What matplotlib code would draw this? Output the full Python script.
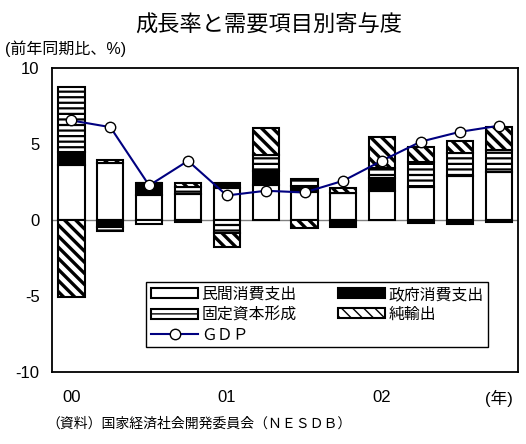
import matplotlib
matplotlib.use("Agg")
import matplotlib.pyplot as plt
import numpy as np

# quarterly contributions, 2000Q1 - 2002Q4 (percentage points)
quarters = ["00Q1", "00Q2", "00Q3", "00Q4", "01Q1", "01Q2",
            "01Q3", "01Q4", "02Q1", "02Q2", "02Q3", "02Q4"]
private_cons = [3.63, 3.74, 1.66, 1.72, 2.10, 2.32, 1.88, 1.81, 1.94, 2.20, 2.91, 3.20]
gov_cons = [0.88, -0.43, 0.77, -0.13, 0.37, 0.94, 0.37, -0.45, 0.82, -0.15, -0.28, -0.10]
fixed_cap = [4.28, -0.26, -0.25, 0.44, -0.87, 1.03, 0.46, 0.0, 0.66, 1.64, 1.52, 1.40]
net_exports = [-5.03, 0.22, 0.0, 0.26, -0.87, 1.76, -0.53, 0.34, 2.08, 0.96, 0.79, 1.55]
gdp = [6.57, 6.13, 2.29, 3.91, 1.63, 1.94, 1.83, 2.60, 3.93, 5.18, 5.82, 6.22]

year_labels = ["00", "01", "02", "(年)"]
year_pos = [0, 4, 8, 11]

plt.rcParams['font.family'] = ['Liberation Sans', 'Noto Sans CJK JP']
plt.rcParams['hatch.color'] = 'black'


def main():
    fig = plt.figure(figsize=(5.26, 4.44), dpi=100)
    ax = fig.add_axes([0.099, 0.162, 0.886, 0.684])

    x = np.arange(len(quarters))
    width = 0.67
    pos_bottom = np.zeros(len(x))
    neg_bottom = np.zeros(len(x))

    series = [
        (private_cons, "民間消費支出", "white", None, 1.0),
        (gov_cons, "政府消費支出", "black", None, 1.0),
        (fixed_cap, "固定資本形成", "white", "---", 1.6),
        (net_exports, "純輸出", "white", "\\\\\\", 2.4),
    ]
    handles = []
    for values, label, color, hatch, hlw in series:
        v = np.array(values)
        bottom = np.where(v >= 0, pos_bottom, neg_bottom)
        with plt.rc_context({'hatch.linewidth': hlw}):
            bars = ax.bar(x, v, width, bottom=bottom, color=color,
                          edgecolor="black", linewidth=1.5, hatch=hatch,
                          label=label, zorder=2)
        handles.append(bars)
        pos_bottom = pos_bottom + np.where(v > 0, v, 0)
        neg_bottom = neg_bottom + np.where(v < 0, v, 0)

    line, = ax.plot(x, gdp, color="#000080", linewidth=1.5, marker="o",
                    markersize=7.5, markerfacecolor="white",
                    markeredgecolor="black", markeredgewidth=1.0,
                    label="ＧＤＰ", zorder=4)

    ax.axhline(0, color="gray", linewidth=1.0, zorder=1)

    ax.set_xlim(-0.5, len(x) - 0.5)
    ax.set_ylim(-10, 10)
    ax.set_yticks([-10, -5, 0, 5, 10])
    ax.set_yticklabels(["-10", "-5", "0", "5", "10"])
    ax.set_xticks(year_pos)
    ax.set_xticklabels(year_labels)
    ax.tick_params(axis="both", length=0, labelsize=12)
    ax.tick_params(axis="x", pad=13)
    ax.tick_params(axis="y", pad=9)
    for s in ax.spines.values():
        s.set_linewidth(1.3)

    order = [handles[0], handles[2], line, handles[1], handles[3]]
    labels = ["民間消費支出", "固定資本形成", "ＧＤＰ", "政府消費支出", "純輸出"]
    leg = ax.legend(order, labels, ncol=2, loc="lower left",
                    bbox_to_anchor=(0.202, 0.082, 0.734, 0.211), mode="expand",
                    fontsize=11.4, frameon=True, fancybox=False,
                    edgecolor="black", framealpha=1, borderpad=0.3,
                    labelspacing=0.33, handlelength=3.0, handleheight=0.6,
                    handletextpad=0.2, columnspacing=1.5, borderaxespad=0)
    leg.get_frame().set_linewidth(1.0)

    fig.text(0.51, 0.942, "成長率と需要項目別寄与度", ha="center", va="center",
             fontsize=16)
    fig.text(0.01, 0.89, "(前年同期比、%)", ha="left", va="center",
             fontsize=11.5)
    fig.text(0.089, 0.045, "（資料）国家経済社会開発委員会（ＮＥＳＤＢ）",
             ha="left", va="center", fontsize=10)

    fig.savefig("out.png", dpi=100)


if __name__ == '__main__':
    main()
